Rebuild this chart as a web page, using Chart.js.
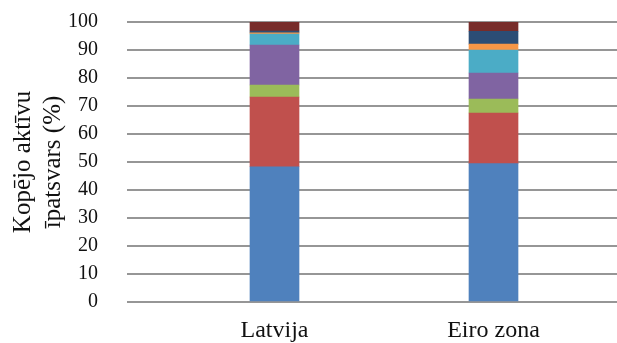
<!DOCTYPE html>
<html lang="lv">
<head>
<meta charset="utf-8">
<title>Kopējo aktīvu īpatsvars</title>
<script src="https://cdn.jsdelivr.net/npm/chart.js@4/dist/chart.umd.min.js"></script>
<style>
  html, body { margin: 0; padding: 0; background: #ffffff; }
  #wrap { width: 617px; height: 343px; position: relative; }
</style>
</head>
<body>
<div id="wrap"><canvas id="chart"></canvas></div>
<script>
// Categories (x axis)
const categories = ['Latvija', 'Eiro zona'];

// Asset group shares, % of total assets, bottom to top
const group1 = [48.3, 49.4];
const group2 = [24.9, 18.1];
const group3 = [4.3, 5.0];
const group4 = [14.3, 9.3];
const group5 = [3.9, 8.2];
const group6 = [0.4, 2.1];
const group7 = [0.7, 4.6];
const group8 = [3.2, 3.3];

// Y axis tick values
const yTicks = [0, 10, 20, 30, 40, 50, 60, 70, 80, 90, 100];

const seriesValues = [group1, group2, group3, group4, group5, group6, group7, group8];
const seriesColors = ['#4F81BD', '#C0504D', '#9BBB59', '#8064A2', '#4BACC6', '#F79646', '#2C4D75', '#772C2A'];

const datasets = seriesValues.map((vals, s) => ({
  label: 'Aktīvu grupa ' + (s + 1),
  data: vals.map((v, i) => ({ x: i + 1, y: v })),
  backgroundColor: seriesColors[s],
  borderWidth: 0,
  barThickness: 49
}));

const serif = "'Liberation Serif', 'Times New Roman', serif";

new Chart(document.getElementById('chart'), {
  type: 'bar',
  data: { datasets },
  options: {
    responsive: true,
    maintainAspectRatio: false,
    animation: false,
    layout: { padding: { top: 22, right: 0, bottom: 0, left: 0 } },
    plugins: {
      legend: { display: false },
      tooltip: { enabled: false }
    },
    scales: {
      x: {
        type: 'linear',
        stacked: true,
        offset: false,
        min: 0.3265,
        max: 2.5639,
        afterBuildTicks: (scale) => {
          scale.ticks = categories.map((c, i) => ({ value: i + 1 }));
        },
        afterFit: (scale) => { scale.height = 41; },
        grid: { display: false, drawTicks: false },
        border: { display: false },
        ticks: {
          autoSkip: false,
          maxRotation: 0,
          padding: 14,
          color: '#111111',
          font: { family: serif, size: 24 },
          callback: (value) => categories[value - 1] ?? ''
        }
      },
      y: {
        stacked: true,
        min: 0,
        max: 100,
        afterBuildTicks: (scale) => {
          scale.ticks = yTicks.map(v => ({ value: v }));
        },
        afterFit: (scale) => { scale.width = 127; },
        grid: {
          color: '#969696',
          lineWidth: 2,
          drawTicks: true,
          tickLength: 29,
          tickColor: 'rgba(0,0,0,0)'
        },
        border: { display: false },
        ticks: {
          padding: 0,
          color: '#111111',
          font: { family: serif, size: 20 }
        },
        title: {
          display: true,
          text: ['Kopējo aktīvu', 'īpatsvars (%)'],
          color: '#111111',
          font: { family: serif, size: 25, lineHeight: 1.2 },
          padding: { top: 8, bottom: 0 }
        }
      }
    }
  }
});
</script>
</body>
</html>
